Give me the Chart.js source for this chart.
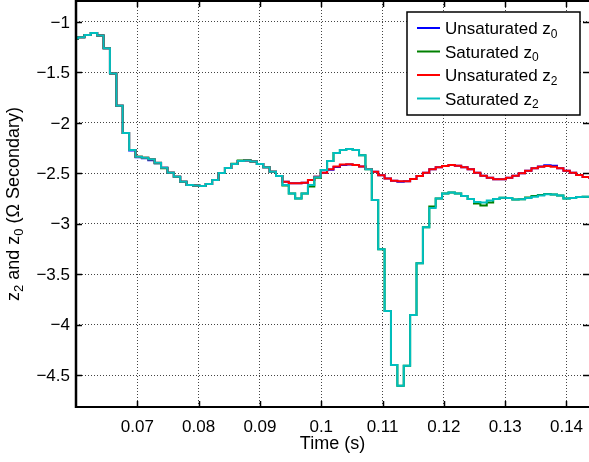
<!DOCTYPE html>
<html><head><meta charset="utf-8">
<script src="https://cdn.jsdelivr.net/npm/chart.js@4/dist/chart.umd.min.js"></script>
<style>html,body{margin:0;padding:0;background:#fff;}#wrap{width:589px;height:462px;}</style>
</head><body><div id="wrap"><canvas id="c" width="589" height="462"></canvas></div>
<script>
// Sampling grid (zero-order hold samples at 960 Hz)
const sampleStart = 0.06033 - 1/960;
const samplePeriod = 1/960;

const unsaturatedZ0 = [-1.165,-1.15,-1.13,-1.11,-1.135,-1.26,-1.51,-1.83,-2.10,-2.275,
 -2.34,-2.35,-2.37,-2.40,-2.445,-2.495,-2.535,-2.585,-2.615,-2.62,
 -2.625,-2.605,-2.567,-2.497,-2.447,-2.408,-2.378,-2.373,-2.383,-2.408,
 -2.44,-2.484,-2.527,-2.583,-2.60,-2.60,-2.593,-2.567,-2.534,-2.494,
 -2.465,-2.438,-2.418,-2.413,-2.418,-2.433,-2.457,-2.484,-2.52,-2.552,
 -2.575,-2.583,-2.58,-2.557,-2.527,-2.494,-2.46,-2.44,-2.428,-2.418,
 -2.425,-2.44,-2.46,-2.494,-2.524,-2.544,-2.56,-2.56,-2.544,-2.524,
 -2.50,-2.474,-2.45,-2.432,-2.42,-2.425,-2.45,-2.474,-2.494,-2.517,
 -2.537,-2.555];
const saturatedZ0 = [-1.165,-1.15,-1.13,-1.11,-1.135,-1.26,-1.51,-1.83,-2.10,-2.27,
 -2.335,-2.345,-2.36,-2.40,-2.45,-2.495,-2.535,-2.585,-2.615,-2.62,
 -2.625,-2.605,-2.567,-2.497,-2.447,-2.405,-2.372,-2.368,-2.383,-2.408,
 -2.44,-2.484,-2.527,-2.62,-2.70,-2.75,-2.70,-2.63,-2.545,-2.467,
 -2.378,-2.30,-2.27,-2.26,-2.27,-2.32,-2.46,-2.765,-3.254,-3.865,
 -4.40,-4.606,-4.408,-3.905,-3.392,-3.036,-2.83,-2.75,-2.70,-2.69,
 -2.70,-2.725,-2.755,-2.80,-2.82,-2.79,-2.755,-2.742,-2.745,-2.76,
 -2.758,-2.74,-2.725,-2.715,-2.705,-2.71,-2.72,-2.75,-2.745,-2.735,
 -2.732,-2.73];
const unsaturatedZ2 = [-1.16,-1.15,-1.13,-1.11,-1.135,-1.26,-1.51,-1.83,-2.10,-2.27,
 -2.335,-2.345,-2.36,-2.395,-2.445,-2.495,-2.535,-2.585,-2.615,-2.62,
 -2.625,-2.605,-2.567,-2.497,-2.447,-2.408,-2.378,-2.373,-2.383,-2.408,
 -2.44,-2.484,-2.527,-2.583,-2.60,-2.60,-2.593,-2.567,-2.534,-2.494,
 -2.46,-2.433,-2.413,-2.41,-2.418,-2.433,-2.457,-2.484,-2.52,-2.552,
 -2.573,-2.58,-2.58,-2.557,-2.527,-2.494,-2.46,-2.44,-2.428,-2.418,
 -2.425,-2.44,-2.46,-2.494,-2.524,-2.544,-2.56,-2.56,-2.544,-2.524,
 -2.50,-2.474,-2.45,-2.435,-2.428,-2.435,-2.45,-2.474,-2.494,-2.517,
 -2.537,-2.555];
const saturatedZ2 = [-1.16,-1.15,-1.13,-1.11,-1.135,-1.26,-1.51,-1.83,-2.10,-2.27,
 -2.335,-2.345,-2.36,-2.395,-2.445,-2.495,-2.535,-2.585,-2.615,-2.62,
 -2.625,-2.605,-2.567,-2.497,-2.447,-2.408,-2.378,-2.373,-2.383,-2.408,
 -2.44,-2.484,-2.527,-2.616,-2.70,-2.75,-2.70,-2.615,-2.54,-2.467,
 -2.378,-2.30,-2.27,-2.26,-2.27,-2.32,-2.46,-2.765,-3.254,-3.865,
 -4.40,-4.606,-4.408,-3.905,-3.392,-3.036,-2.844,-2.75,-2.70,-2.69,
 -2.70,-2.725,-2.755,-2.785,-2.79,-2.77,-2.755,-2.742,-2.745,-2.76,
 -2.758,-2.745,-2.732,-2.72,-2.708,-2.71,-2.72,-2.75,-2.745,-2.735,
 -2.732,-2.73];

const xTickValues = [0.07,0.08,0.09,0.10,0.11,0.12,0.13,0.14];
const xTickLabels = ['0.07','0.08','0.09','0.1','0.11','0.12','0.13','0.14'];
const yTickValues = [-1,-1.5,-2,-2.5,-3,-3.5,-4,-4.5];
const yTickLabels = ['\u22121','\u22121.5','\u22122','\u22122.5','\u22123','\u22123.5','\u22124','\u22124.5'];

const seriesNames = [['Unsaturated z','0'],['Saturated z','0'],['Unsaturated z','2'],['Saturated z','2']];
const seriesColors = ['#0000ff','#008000','#ff0000','#00bfbf'];
const xTitle = 'Time (s)';
const yTitleParts = [['z',false],['2',true],[' and z',false],['0',true],[' (\u03A9 Secondary)',false]];

function toPoints(vals){ return vals.map((v,i)=>({x: sampleStart + i*samplePeriod, y: v})); }
const allSeries = [unsaturatedZ0, saturatedZ0, unsaturatedZ2, saturatedZ2];

const FONT = "'Liberation Sans', Arial, Helvetica, sans-serif";

function drawRich(ctx, parts, x, y, size, align){
  // parts: [text, isSub]
  const subSize = Math.round(size*0.7);
  let total = 0;
  const widths = parts.map(([t,sub])=>{ctx.font = (sub?subSize:size)+'px '+FONT; const w = ctx.measureText(t).width; total += w; return w;});
  let cx = align==='center' ? x - total/2 : (align==='right' ? x - total : x);
  ctx.textAlign = 'left';
  ctx.textBaseline = 'alphabetic';
  parts.forEach(([t,sub],i)=>{
    ctx.font = (sub?subSize:size)+'px '+FONT;
    ctx.fillText(t, cx, y + (sub? size*0.22 : 0));
    cx += widths[i];
  });
}

const decor = {
  id:'decor',
  afterDraw(chart){
    const ctx = chart.ctx, a = chart.chartArea;
    const xs = chart.scales.x, ys = chart.scales.y;
    ctx.save();
    ctx.strokeStyle = '#000';
    // axes box
    ctx.lineWidth = 2;
    ctx.beginPath(); ctx.moveTo(a.left, a.top); ctx.lineTo(a.right, a.top); ctx.stroke();
    ctx.beginPath(); ctx.moveTo(a.left, a.bottom); ctx.lineTo(a.right, a.bottom); ctx.stroke();
    ctx.lineWidth = 2.5;
    ctx.beginPath(); ctx.moveTo(a.left, a.top-1); ctx.lineTo(a.left, a.bottom+1); ctx.stroke();
    // inward ticks
    const tl = 6;
    ctx.lineWidth = 1.5;
    xTickValues.forEach(v=>{
      const px = Math.round(xs.getPixelForValue(v))+0.5;
      ctx.beginPath(); ctx.moveTo(px, a.bottom); ctx.lineTo(px, a.bottom-tl); ctx.stroke();
      ctx.beginPath(); ctx.moveTo(px, a.top); ctx.lineTo(px, a.top+tl); ctx.stroke();
    });
    yTickValues.forEach(v=>{
      const py = Math.round(ys.getPixelForValue(v))+0.5;
      ctx.beginPath(); ctx.moveTo(a.left, py); ctx.lineTo(a.left+tl, py); ctx.stroke();
      ctx.beginPath(); ctx.moveTo(a.right, py); ctx.lineTo(a.right-tl, py); ctx.stroke();
    });
    // tick labels
    ctx.fillStyle = '#000';
    ctx.font = '17px '+FONT;
    ctx.textAlign = 'center'; ctx.textBaseline = 'middle';
    xTickValues.forEach((v,i)=>{ ctx.fillText(xTickLabels[i], xs.getPixelForValue(v), a.bottom+20); });
    ctx.textAlign = 'right';
    yTickValues.forEach((v,i)=>{ ctx.fillText(yTickLabels[i], a.left-6, ys.getPixelForValue(v)+1); });
    // axis titles
    ctx.font = '18px '+FONT;
    ctx.textAlign = 'center'; ctx.textBaseline = 'middle';
    ctx.fillText(xTitle, (a.left+a.right)/2, a.bottom+37);
    ctx.save();
    ctx.translate(19, (a.top+a.bottom)/2);
    ctx.rotate(-Math.PI/2);
    drawRich(ctx, yTitleParts, 0, 0, 18, 'center');
    ctx.restore();
    // legend
    const lx = 407, ly = 12, lw = 173, lh = 103;
    ctx.fillStyle = '#fff';
    ctx.fillRect(lx, ly, lw, lh);
    ctx.lineWidth = 1.5; ctx.strokeStyle = '#000';
    ctx.strokeRect(lx, ly, lw, lh);
    const rows = [28, 51.5, 75, 98.5];
    seriesNames.forEach((nm,i)=>{
      ctx.strokeStyle = seriesColors[i]; ctx.lineWidth = 2;
      ctx.beginPath(); ctx.moveTo(417, rows[i]); ctx.lineTo(440, rows[i]); ctx.stroke();
      ctx.fillStyle = '#000';
      drawRich(ctx, [[nm[0],false],[nm[1],true]], 445, rows[i]+6, 17, 'left');
    });
    ctx.restore();
  }
};

const cfg = {
  type:'line',
  data:{ datasets: allSeries.map((vals,i)=>({
    label: seriesNames[i].join(''),
    data: toPoints(vals),
    borderColor: seriesColors[i],
    backgroundColor: seriesColors[i],
    borderWidth: 2,
    pointRadius: 0,
    stepped: true,
    fill: false,
    order: 4-i
  }))},
  options:{
    responsive:false, animation:false, devicePixelRatio:1,
    parsing:false,
    layout:{padding:{top:1,right:0,bottom:0,left:0}},
    plugins:{legend:{display:false}, tooltip:{enabled:false}},
    scales:{
      x:{type:'linear', min:0.06, max:0.14367,
        afterBuildTicks:s=>{s.ticks = xTickValues.map(v=>({value:v}));},
        afterFit:s=>{s.height = 55;},
        ticks:{display:false},
        grid:{color:'#444', lineWidth:1, drawTicks:false},
        border:{display:false, dash:[1,2]}},
      y:{type:'linear', min:-4.8172, max:-0.7918,
        afterBuildTicks:s=>{s.ticks = yTickValues.map(v=>({value:v}));},
        afterFit:s=>{s.width = 76;},
        ticks:{display:false},
        grid:{color:'#444', lineWidth:1, drawTicks:false},
        border:{display:false, dash:[1,2]}}
    }
  },
  plugins:[decor]
};
new Chart(document.getElementById('c'), cfg);
</script></body></html>
